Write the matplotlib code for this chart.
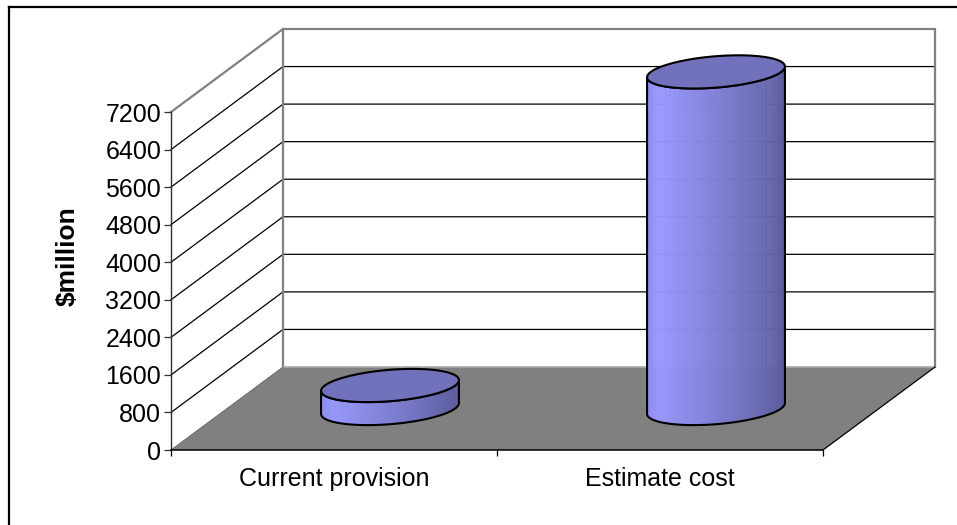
import numpy as np
import matplotlib
matplotlib.use('Agg')
import matplotlib.pyplot as plt
from matplotlib.colors import LinearSegmentedColormap
from matplotlib.collections import PolyCollection
from matplotlib.patches import Polygon
from matplotlib.lines import Line2D

# ---------------- data ----------------
categories = ['Current provision', 'Estimate cost']
values = [490, 7170]
y_ticks = [0, 800, 1600, 2400, 3200, 4000, 4800, 5600, 6400, 7200]
y_label = '$million'

# ---------------- layout ----------------
plt.rcParams['font.family'] = ['Liberation Sans', 'DejaVu Sans']
W, H = 957, 525
fig = plt.figure(figsize=(W / 100, H / 100), dpi=100)

# front plane of the 3-D box, in pixels
L, R, B, T = 171, 823, 450, 112
ax = fig.add_axes([L / W, 1 - B / H, (R - L) / W, (B - T) / H])
ncat = len(categories)
ymax = y_ticks[-1]
ax.set_xlim(-0.5, ncat - 0.5)
ax.set_ylim(0, ymax)
ax.patch.set_visible(False)

# depth vector (front -> back) expressed in data units
DX = 112 / (R - L) * ncat
DY = 83 / (B - T) * ymax


def P(x, v, z):
    return (x + z * DX, v + z * DY)


x0, x1 = -0.5, ncat - 0.5
grey = '#808080'

# walls
side = Polygon([P(x0, 0, 0), P(x0, ymax, 0), P(x0, ymax, 1), P(x0, 0, 1)],
               closed=True, facecolor='white', edgecolor='none', zorder=0.5, clip_on=False)
back = Polygon([P(x0, 0, 1), P(x1, 0, 1), P(x1, ymax, 1), P(x0, ymax, 1)],
               closed=True, facecolor='white', edgecolor='none', zorder=0.5, clip_on=False)
ax.add_patch(side)
ax.add_patch(back)

# gridlines on side + back wall
for v in y_ticks[1:-1]:
    pts = [P(x0, v, 0), P(x0, v, 1), P(x1, v, 1)]
    ax.plot([p[0] for p in pts], [p[1] for p in pts], color='black', lw=0.9,
            zorder=0.6, clip_on=False, solid_joinstyle='miter')

# wall edges (grey)
edge_paths = [
    [P(x0, ymax, 0), P(x0, ymax, 1), P(x1, ymax, 1), P(x1, 0, 1)],
    [P(x0, ymax, 1), P(x0, 0, 1)],
]
for pts in edge_paths:
    ax.plot([p[0] for p in pts], [p[1] for p in pts], color=grey, lw=1.6,
            zorder=0.65, clip_on=False, solid_joinstyle='miter')

# floor
floor = Polygon([P(x0, 0, 0), P(x1, 0, 0), P(x1, 0, 1), P(x0, 0, 1)],
                closed=True, facecolor=grey, edgecolor='none', zorder=0.7, clip_on=False)
ax.add_patch(floor)
pts = [P(x1, 0, 0), P(x1, 0, 1)]
ax.plot([p[0] for p in pts], [p[1] for p in pts], color='black', lw=0.9, zorder=0.8, clip_on=False)
pts = [P(x0, 0, 1), P(x1, 0, 1)]
ax.plot([p[0] for p in pts], [p[1] for p in pts], color='#a8a8a8', lw=1.2, zorder=0.75, clip_on=False)
pts = [P(x0, 0, 0), P(x0, 0, 1)]
ax.plot([p[0] for p in pts], [p[1] for p in pts], color='#606060', lw=0.6, zorder=0.8, clip_on=False)

# cylinders
side_cmap = LinearSegmentedColormap.from_list(
    'cyl', [(0.0, '#8c8cee'), (0.08, '#9999ff'), (0.5, '#8080d6'), (0.8, '#6c6cb6'), (1.0, '#5c5c9e')])
top_color = '#7272bc'
r = 0.2
zc = 0.5
t0 = np.arctan(DX)
ts = np.linspace(t0 + np.pi, t0 + 2 * np.pi, 121)


def ring(cx, v, t):
    return cx + r * np.cos(t) + (zc + r * np.sin(t)) * DX, v + (zc + r * np.sin(t)) * DY


for i, v in enumerate(values):
    bx, by = ring(i, 0, ts)
    tx, ty = ring(i, v, ts)
    xmin, xmax = bx.min(), bx.max()
    polys, cols = [], []
    for k in range(len(ts) - 1):
        polys.append([(bx[k], by[k]), (bx[k + 1], by[k + 1]), (tx[k + 1], ty[k + 1]), (tx[k], ty[k])])
        cols.append(side_cmap(((bx[k] + bx[k + 1]) / 2 - xmin) / (xmax - xmin)))
    pc = PolyCollection(polys, facecolors=cols, edgecolors=cols, linewidths=0.4,
                        zorder=2, clip_on=False)
    ax.add_collection(pc)
    outline = np.vstack([np.column_stack([bx, by]), np.column_stack([tx[::-1], ty[::-1]])])
    ax.add_patch(Polygon(outline, closed=True, facecolor='none', edgecolor='black',
                         lw=1.5, zorder=2.1, clip_on=False, joinstyle='round'))
    tt = np.linspace(0, 2 * np.pi, 200)
    ex, ey = ring(i, v, tt)
    ax.add_patch(Polygon(np.column_stack([ex, ey]), closed=True, facecolor=top_color,
                         edgecolor='black', lw=1.5, zorder=2.2, clip_on=False, joinstyle='round'))

# axes / ticks
for s in ['top', 'right']:
    ax.spines[s].set_visible(False)
ax.spines['left'].set_color('#303030')
ax.spines['left'].set_linewidth(1.0)
ax.spines['bottom'].set_color('black')
ax.spines['bottom'].set_linewidth(1.1)
ax.spines['left'].set_zorder(4)
ax.spines['bottom'].set_zorder(4)

ax.set_yticks(y_ticks)
ax.set_yticklabels([str(t) for t in y_ticks])
ax.tick_params(axis='y', direction='out', length=5, width=0.9, pad=2, labelsize=18,
               color='#303030', labelcolor='black')
ax.set_xticks(range(ncat))
ax.set_xticklabels(categories)
ax.set_xticks(np.arange(ncat + 1) - 0.5, minor=True)
ax.tick_params(axis='x', which='major', length=0, pad=12, labelsize=18)
ax.tick_params(axis='x', which='minor', direction='out', length=4.5, width=0.9, color='black')

fig.text(68 / W, 1 - 256 / H, y_label, rotation=90, ha='center', va='center',
         fontsize=19, fontweight='bold')

# chart border (top and left visible)
fig.add_artist(Line2D([9 / W, 1], [1 - 6.5 / H, 1 - 6.5 / H], color='black', lw=1.6))
fig.add_artist(Line2D([9 / W, 9 / W], [0, 1 - 6.5 / H], color='black', lw=1.6))

fig.savefig('out.png', dpi=100)
